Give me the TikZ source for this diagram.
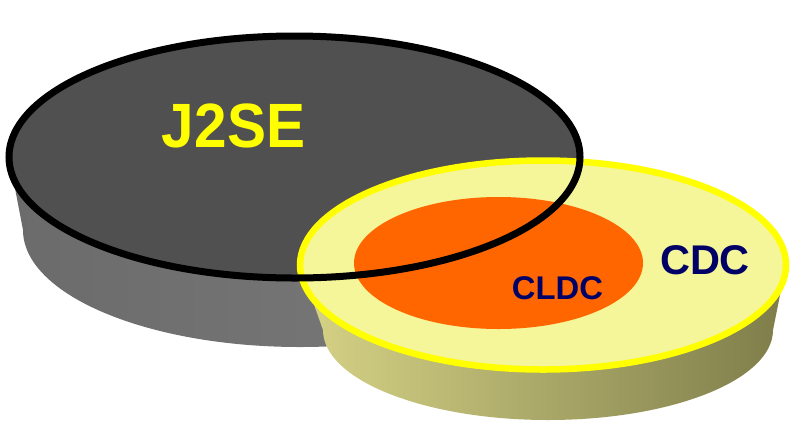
\documentclass[tikz,border=0pt]{standalone}
\usepackage{fontspec}
\setsansfont{Liberation Sans}
\usepackage{tikz}
\usetikzlibrary{positioning}
\definecolor{topgray}{HTML}{505050}
\definecolor{sidegrayL}{HTML}{6B6B6B}
\definecolor{sidegrayR}{HTML}{7C7C7C}
\definecolor{cdctop}{HTML}{F5F59A}
\definecolor{cdcrim}{HTML}{FFFF00}
\definecolor{cdcsideL}{HTML}{D6D386}
\definecolor{cdcsideR}{HTML}{7E7D4A}
\definecolor{cldcfill}{HTML}{FF6600}
\definecolor{navy}{HTML}{000066}

\begin{document}
\begin{tikzpicture}[x=1pt, y=-1pt, font=\sffamily\bfseries,
  lbl/.style={inner sep=0pt, anchor=center},
  rim/.style={line width=7pt, draw=black}]
\useasboundingbox (0,0) rectangle (800,432);
% J2SE disc
\shade[left color=sidegrayL, right color=sidegrayR]
  (9,157) -- (23,230) arc[start angle=180, end angle=0, x radius=277, y radius=117]
  -- (580,157) arc[start angle=0, end angle=180, x radius=285.5, y radius=121] -- cycle;
\fill[topgray] (294.5,157) ellipse[x radius=285.5, y radius=121];
% CDC disc
\shade[left color=cdcsideL, right color=cdcsideR]
  (300,265) -- (323,330) arc[start angle=180, end angle=0, x radius=225, y radius=90]
  -- (786,265) arc[start angle=0, end angle=180, x radius=243, y radius=104.5] -- cycle;
\filldraw[fill=cdctop, draw=cdcrim, line width=6.5pt] (543,265) ellipse[x radius=243, y radius=104.5];
\fill[cldcfill] (498.5,263) ellipse[x radius=144.5, y radius=66];
% outline of J2SE on top
\draw[rim] (294.5,157) ellipse[x radius=285.5, y radius=121];
\node[lbl, text=cdcrim, font=\sffamily\bfseries\fontsize{58.5}{60}\selectfont, yscale=1.07, transform shape] (j2se) at (233.5,125.5) {J2SE};
\node[lbl, text=navy, font=\sffamily\bfseries\fontsize{41.5}{44}\selectfont] (cdc) at (705,260) {CDC};
\node[lbl, text=navy, font=\sffamily\bfseries\fontsize{32.8}{35}\selectfont] (cldc) at (557.5,288.5) {CLDC};
\end{tikzpicture}
\end{document}
